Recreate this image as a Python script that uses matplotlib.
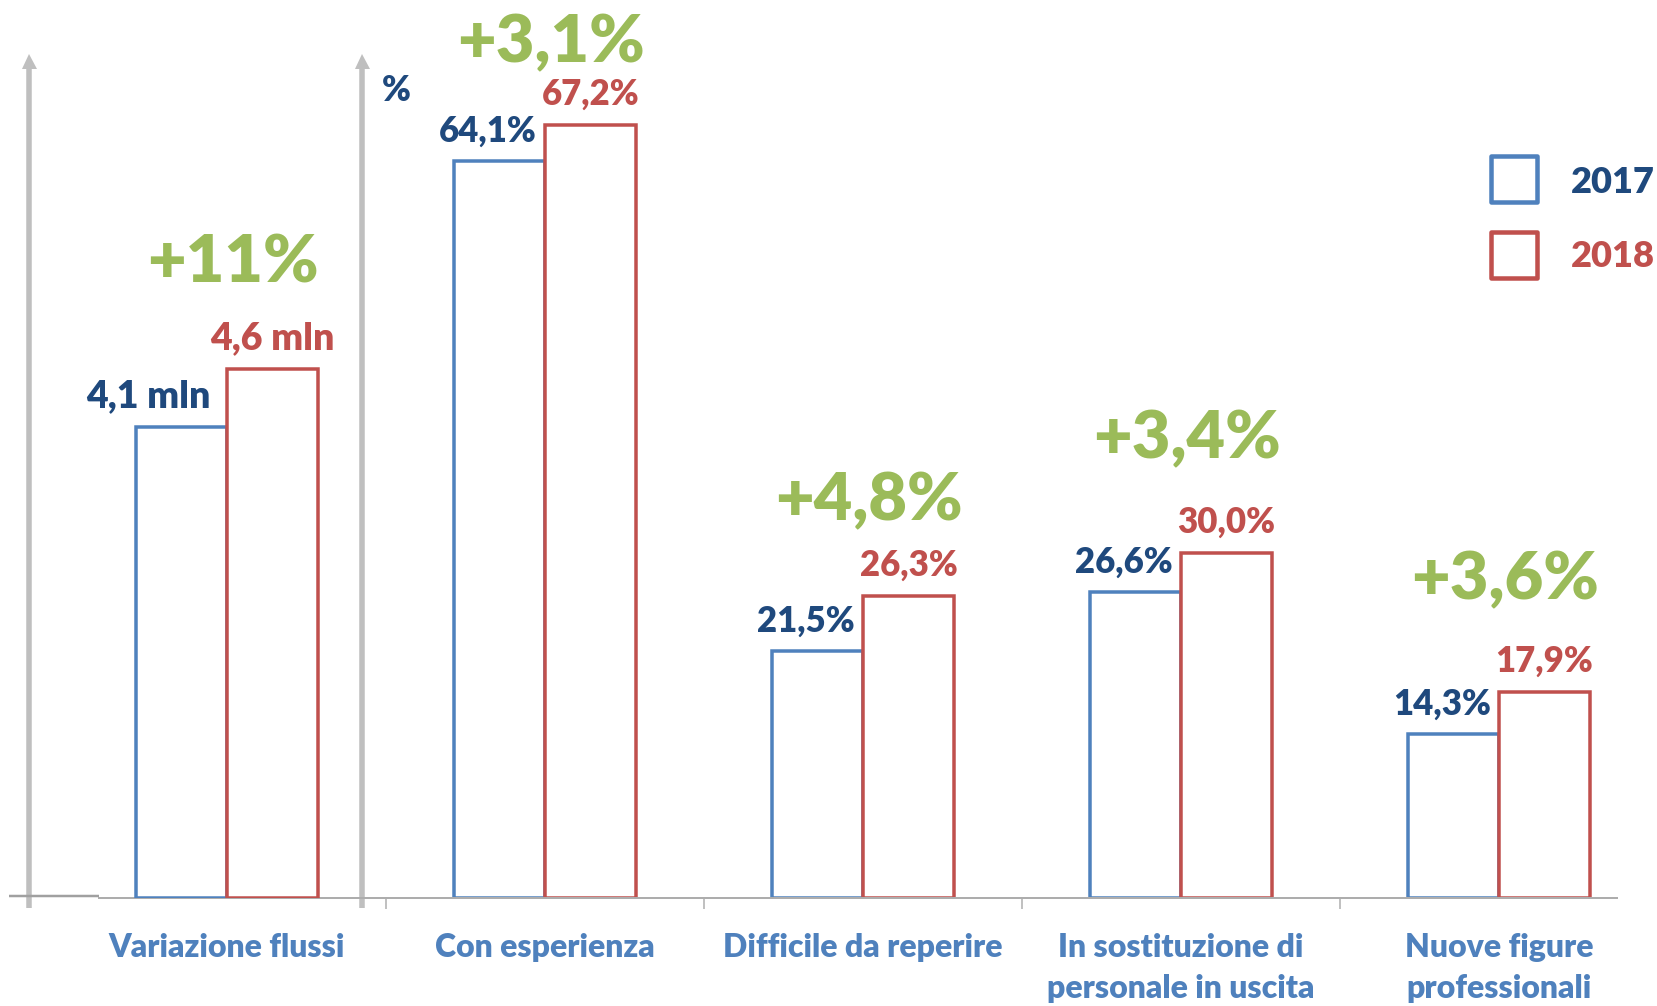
import matplotlib
matplotlib.use("Agg")
import matplotlib.pyplot as plt
from matplotlib.patches import Rectangle

plt.rcParams["font.family"] = ["Lato", "DejaVu Sans"]
plt.rcParams["font.weight"] = "bold"

# ── data ─────────────────────────────────────────────
categories = ["Variazione flussi", "Con esperienza", "Difficile da reperire",
              "In sostituzione di\npersonale in uscita", "Nuove figure\nprofessionali"]
flussi_2017 = 4.1          # milioni
flussi_2018 = 4.6
pct_2017 = [64.1, 21.5, 26.6, 14.3]
pct_2018 = [67.2, 26.3, 30.0, 17.9]
changes = ["+11%", "+3,1%", "+4,8%", "+3,4%", "+3,6%"]
years = ["2017", "2018"]

# ── style ────────────────────────────────────────────
BLUE_EDGE = "#4F81BD"
RED_EDGE = "#C0504D"
BLUE_TXT = "#1F497D"
GREEN = "#9BBB59"
ARROW = "#BFBFBF"
AXLINE = "#ADADAD"
WEIGHT = "heavy"

W, H = 1657, 1006
BASE_Y = 898      # pixel row of the baseline
TOP_Y = 53        # top of the axes (arrow tips)
X0, STEP = 227, 318
PX_PER_PCT = 11.5
PT = 0.72         # points per pixel at dpi 100
green_off_px = [87, 63, 75, 95, 93]

def u(px):
    return (px - X0) / STEP

def v(py):
    return (BASE_Y - py) / PX_PER_PCT

fig = plt.figure(figsize=(W / 100, H / 100), dpi=100)
ax = fig.add_axes([0, (H - BASE_Y) / H, 1, (BASE_Y - TOP_Y) / H])
ax.set_xlim(u(0), u(W))
ax.set_ylim(0, v(TOP_Y))
ax2 = ax.twinx()
ax2.set_ylim(0, v(TOP_Y) / 10)
ax2.axis("off")

bw = 0.286
lw = 3.5 * PT

# first group on the secondary (mln) scale
ax2.bar(0 - bw / 2, flussi_2017, bw, facecolor="white", edgecolor=BLUE_EDGE, linewidth=lw)
ax2.bar(0 + bw / 2, flussi_2018, bw, facecolor="white", edgecolor=RED_EDGE, linewidth=lw)

xs = [1, 2, 3, 4]
ax.bar([x - bw / 2 for x in xs], pct_2017, bw, facecolor="white", edgecolor=BLUE_EDGE, linewidth=lw)
ax.bar([x + bw / 2 for x in xs], pct_2018, bw, facecolor="white", edgecolor=RED_EDGE, linewidth=lw)

def fmt(val, unit):
    return f"{val:.1f}".replace(".", ",") + unit

VAL_FS = 25
GREEN_FS = 48

def labels(axis, x, b, r, unit, goff, ch, boff=8, fs=VAL_FS):
    axis.annotate(fmt(b, unit), (x, b), xytext=(-boff * PT, 19 * PT), textcoords="offset points",
                  ha="right", va="baseline", fontsize=fs, color=BLUE_TXT, fontweight=WEIGHT)
    axis.annotate(fmt(r, unit), (x + bw / 2, r), xytext=(0, 20 * PT), textcoords="offset points",
                  ha="center", va="baseline", fontsize=fs, color=RED_EDGE, fontweight=WEIGHT)
    axis.annotate(ch, (x, r), xytext=(6 * PT, goff * PT), textcoords="offset points",
                  ha="center", va="baseline", fontsize=GREEN_FS, color=GREEN, fontweight=WEIGHT,
                  annotation_clip=False)

labels(ax2, 0, flussi_2017, flussi_2018, " mln", green_off_px[0], changes[0], boff=16, fs=27)
for i, x in enumerate(xs):
    labels(ax, x, pct_2017[i], pct_2018[i], "%", green_off_px[i + 1], changes[i + 1])

# "%" unit marker
ax.text(u(382), v(101), "%", ha="left", va="baseline", fontsize=VAL_FS,
        color=BLUE_TXT, fontweight=WEIGHT)

# vertical arrows
for ax_px in (29, 362):
    ax.plot([u(ax_px), u(ax_px)], [v(908), v(64)], color=ARROW, linewidth=5.5 * PT,
            solid_capstyle="butt", clip_on=False, zorder=1)
    ax.plot(u(ax_px), v(60.5), marker="^", markersize=15 * PT, color=ARROW,
            markeredgewidth=0, clip_on=False, zorder=1)

# x axis
for s in ("top", "right", "left"):
    ax.spines[s].set_visible(False)
ax.spines["bottom"].set_color(AXLINE)
ax.spines["bottom"].set_linewidth(2 * PT)
ax.spines["bottom"].set_bounds(u(99), u(1617))
ax.plot([u(9), u(99)], [v(896), v(896)], color="#A0A0A0", linewidth=2.5 * PT,
        clip_on=False, solid_capstyle="butt")
ax.set_yticks([])
ax.set_xticks(range(5))
ax.set_xticklabels(categories, fontsize=23, fontweight=WEIGHT, color=BLUE_EDGE, linespacing=1.5)
ax.set_xticks([0.5, 1.5, 2.5, 3.5], minor=True)
ax.tick_params(axis="x", which="major", length=0, pad=25)
ax.tick_params(axis="x", which="minor", length=11 * PT, width=1.5 * PT, color=AXLINE, direction="out")

# legend
for (yt, yb), col, yr, base in [((156, 202), BLUE_EDGE, years[0], 193),
                                ((232, 278), RED_EDGE, years[1], 267)]:
    fig.add_artist(Rectangle((1490.5 / W, (H - yb) / H), 46 / W, (yb - yt) / H,
                             transform=fig.transFigure, facecolor="white", edgecolor=col,
                             linewidth=4.5 * PT, joinstyle="round"))
    fig.text(1571 / W, (H - base) / H, yr, ha="left", va="baseline", fontsize=26,
             fontweight=WEIGHT, color=BLUE_TXT if yr == "2017" else RED_EDGE)

fig.savefig("out.png", dpi=100)
